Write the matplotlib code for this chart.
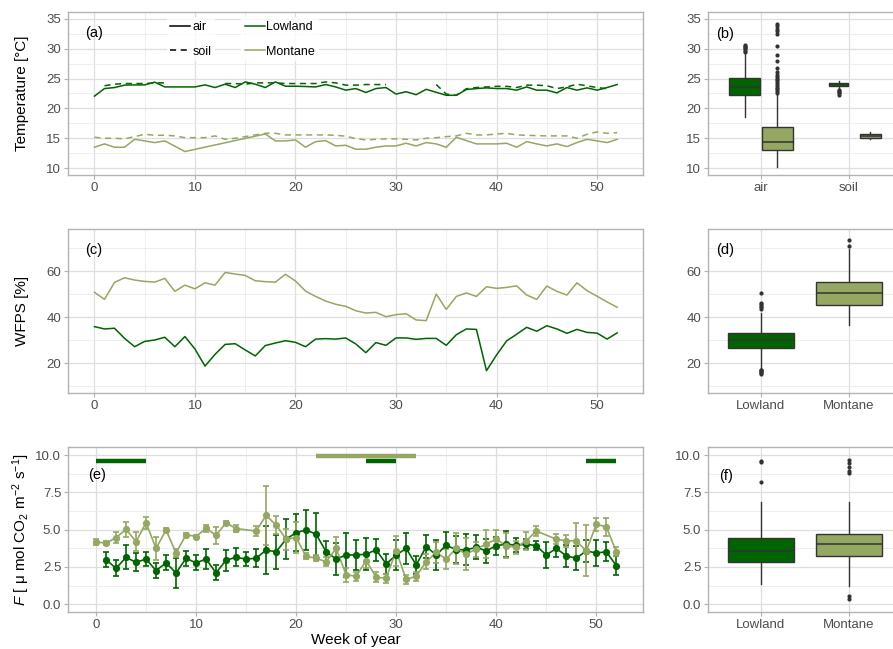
import matplotlib
matplotlib.use('Agg')
import matplotlib.pyplot as plt
import numpy as np
from matplotlib.ticker import FixedLocator
from matplotlib.lines import Line2D

plt.rcParams['font.family'] = ['Liberation Sans', 'DejaVu Sans']
plt.rcParams['mathtext.fontset'] = 'custom'
plt.rcParams['mathtext.rm'] = 'Liberation Sans'
plt.rcParams['mathtext.it'] = 'Liberation Sans:italic'
plt.rcParams['mathtext.bf'] = 'Liberation Sans:bold'

# ---------------- data ----------------
weeks = list(range(53))
site_names = ['Lowland', 'Montane']
medium_names = ['air', 'soil']

# (a) weekly temperature [°C]
temp_air_lowland = [22.06, 23.33, 23.5, 23.9, 23.94, 23.94, 24.4, 23.6, 23.6, 23.6, 23.6, 23.94, 23.5,
                    24.06, 23.5, 24.44, 24.06, 23.5, 24.44, 23.72, 23.72, 23.67, 23.6, 24.0, 23.6, 23.06,
                    23.33, 22.67, 23.33, 23.5, 22.4, 22.8, 22.3, 23.2, 22.7, 22.2, 22.2, 23.17, 23.33,
                    23.44, 23.33, 23.33, 23.06, 23.6, 23.06, 23.06, 22.6, 23.5, 23.06, 23.44, 23.06, 23.5, 24.0]
temp_soil_lowland = [None, 23.8, 24.06, 24.17, 24.17, 24.17, 24.28, 24.28, None, None, None, None, None,
                     24.17, 24.17, 24.06, 24.28, 24.28, 24.28, 24.17, 24.17, 24.17, 24.17, 24.44, 24.28, 23.9,
                     23.9, 24.0, 24.0, 24.0, None, None, None, None, 24.0, 22.4, 22.2, 23.3, 23.5,
                     23.6, 23.7, 23.7, 23.5, 23.9, 23.9, 23.8, 23.33, 23.6, 24.06, 23.78, 23.5, 23.3, None]
temp_air_montane = [13.5, 14.06, 13.5, 13.5, 14.83, 14.56, 14.28, 14.56, None, 12.78, None, None, None,
                    None, None, None, None, 15.72, 14.56, 14.56, 14.72, 13.5, 14.44, 14.61, 13.72, 13.83,
                    13.17, 13.17, 13.5, 13.72, 13.72, 14.17, 13.72, 14.28, 14.06, 13.5, 15.17, 14.61, 14.06,
                    14.06, 14.06, 14.17, 13.5, 14.44, 14.06, 13.72, 14.06, 13.61, 14.28, 14.83, 14.56, 14.28, 14.83]
temp_soil_montane = [15.17, 15.0, 15.0, 14.9, 15.28, 15.67, 15.5, 15.5, 15.4, 15.1, 15.1, 15.1, 15.4,
                     14.83, 15.0, 15.28, 15.56, 15.83, 15.83, 15.56, 15.56, 15.56, 15.56, 15.56, 15.5, 15.35,
                     14.95, 14.72, 14.83, 14.9, 14.9, 14.83, 14.72, 15.0, 15.1, 15.28, 15.4, 15.83, 15.56,
                     15.56, 15.72, 15.83, 15.56, 15.5, 15.44, 15.4, 15.4, 15.4, 15.0, 15.67, 16.06, 15.83, 15.94]

# (c) weekly WFPS [%]
wfps_lowland = [35.9, 34.9, 35.2, 30.8, 27.2, 29.5, 30.1, 31.3, 27.2, 31.6, 26.2, 18.8, 23.9, 28.2, 28.5,
                25.8, 23.2, 27.7, 28.8, 29.8, 29.1, 27.2, 30.5, 30.7, 30.5, 31.0, 28.4, 24.6, 29.0, 27.8,
                31.0, 31.0, 30.4, 30.8, 30.8, 27.8, 32.4, 34.9, 34.7, 16.8, 23.6, 29.7, 32.6, 35.6, 33.9,
                36.3, 34.9, 33.0, 34.7, 33.4, 33.1, 30.5, 33.2]
wfps_montane = [50.8, 47.7, 55.1, 57.1, 56.1, 55.5, 55.2, 56.8, 51.2, 53.9, 52.3, 54.9, 53.9, 59.4, 58.7,
                58.1, 55.8, 55.4, 55.2, 58.6, 55.7, 51.3, 49.0, 47.0, 45.6, 44.7, 42.8, 41.8, 42.1, 40.2,
                41.1, 41.5, 38.8, 38.5, 50.0, 43.4, 49.0, 50.5, 49.0, 53.2, 52.5, 52.9, 53.6, 49.6, 47.7,
                53.5, 51.2, 49.6, 54.9, 51.5, 49.1, 46.6, 44.3]

# (e) weekly CO2 flux, mean and error
flux_lowland = [None, 2.99, 2.41, 3.14, 2.81, 3.03, 2.26, 2.77, 2.1, 3.08, 2.77, 3.03, 2.1, 2.96, 3.14,
                3.03, 3.08, 3.63, 3.52, 4.36, 4.8, 4.98, 4.69, 3.52, 3.03, 3.3, 3.3, 3.36, 3.65, 2.7,
                3.3, 3.74, 2.63, 3.87, 3.3, 3.96, 3.65, 3.65, 3.81, 3.58, 3.92, 4.03, 3.96, 4.03, 3.92,
                3.3, 3.74, 3.25, 3.08, 3.58, 3.43, 3.52, 2.59]
flux_lowland_err = [None, 0.5, 0.55, 0.8, 0.6, 0.5, 0.5, 0.5, 1.0, 0.5, 0.5, 0.7, 0.5, 0.7, 0.6, 0.45,
                    0.6, 1.6, 1.15, 1.35, 1.25, 1.35, 1.45, 0.7, 1.05, 1.45, 1.0, 1.05, 0.75, 0.7, 1.0,
                    1.05, 0.6, 0.75, 1.0, 0.9, 0.9, 1.05, 0.8, 0.8, 0.6, 0.85, 0.45, 0.35, 0.3, 0.9, 0.6,
                    0.75, 0.8, 0.75, 0.85, 0.65, 0.65]
flux_montane = [4.18, 4.09, 4.47, 5.02, 4.2, 5.46, 3.74, 4.98, 3.43, 4.67, 4.54, 5.09, 4.62, 5.46, 5.07,
                None, 4.91, 5.95, 5.31, 4.36, 4.47, 3.21, 3.08, 2.85, 3.74, 1.97, 1.88, 2.92, 1.81, 1.75,
                3.58, 1.66, 1.88, 2.85, 3.47, 3.03, 3.74, 3.36, 3.7, 4.03, 4.36, 3.92, 3.81, 4.25, 4.91,
                None, 4.36, 4.25, 4.25, 3.58, 5.35, 5.2, 3.52]
flux_montane_err = [0.2, 0.15, 0.35, 0.5, 0.65, 0.4, 0.8, 0.1, 0.25, 0.1, 0.1, 0.25, 0.55, 0.1, 0.25,
                    None, 0.35, 2.0, 0.6, 0.7, 1.05, 0.2, 0.2, 0.3, 0.75, 0.45, 0.3, 0.5, 0.33, 0.3, 1.0,
                    0.3, 0.3, 0.5, 0.7, 0.7, 1.05, 1.05, 0.5, 0.95, 0.65, 0.85, 0.45, 0.6, 0.35, None, 0.35,
                    0.4, 1.2, 1.7, 0.45, 0.6, 0.3]

# (e) marked periods
period_site = ['Lowland', 'Montane', 'Lowland', 'Lowland']
period_start = [0, 22, 27, 49]
period_end = [5, 32, 30, 52]
period_level = [9.6, 9.95, 9.6, 9.6]

# (b) boxplot statistics of temperature
box_temp_groups = ['air Lowland', 'air Montane', 'soil Lowland', 'soil Montane']
box_temp_med = [23.56, 14.3, 24.06, 15.4]
box_temp_q1 = [22.17, 13.01, 23.78, 15.13]
box_temp_q3 = [25.07, 16.81, 24.34, 15.69]
box_temp_lo = [18.54, 10.17, 23.45, 14.85]
box_temp_hi = [29.3, 22.4, 24.6, 16.0]
box_temp_fliers = [
    [29.5, 29.7, 29.9, 30.1, 30.3, 30.5, 30.7],
    [34.2, 33.8, 33.3, 33.0, 32.5, 30.5, 29.0, 27.9, 26.7, 26.1, 25.6, 25.3, 25.0, 24.7, 24.4,
     24.1, 23.8, 23.5, 23.2, 22.9, 22.6],
    [23.1, 22.9, 22.7, 22.5, 22.3],
    [],
]

# (d) boxplot statistics of WFPS
box_wfps_med = [30.0, 50.6]
box_wfps_q1 = [26.8, 45.3]
box_wfps_q3 = [33.0, 55.1]
box_wfps_lo = [17.6, 36.6]
box_wfps_hi = [42.0, 69.7]
box_wfps_fliers = [[43.5, 44.2, 44.8, 45.5, 46.1, 50.6, 17.3, 16.9, 16.5, 16.1, 15.7, 15.4],
                   [70.8, 73.3]]

# (f) boxplot statistics of flux
box_flux_med = [3.59, 4.06]
box_flux_q1 = [2.86, 3.26]
box_flux_q3 = [4.46, 4.69]
box_flux_lo = [1.36, 1.23]
box_flux_hi = [6.88, 6.88]
box_flux_fliers = [[9.55, 9.62, 8.17], [9.66, 9.44, 9.22, 8.95, 8.77, 0.56, 0.38]]

# ---------------- style ----------------
C_LOW = '#006400'
C_MON = '#94a862'
site_color = {'Lowland': C_LOW, 'Montane': C_MON}
GRID_MAJ = '#dedede'
GRID_MIN = '#ebebeb'
BORDER = '#b3b3b3'
TXT = '#4d4d4d'

W, H = 893, 649
fig = plt.figure(figsize=(W / 100, H / 100), dpi=100)

def px_axes(l, t, r, b):
    return fig.add_axes([l / W, 1 - b / H, (r - l) / W, (b - t) / H])

LX0, LX1 = 68.3, 643.3
RX0, RX1 = 708.3, 901.4
ROWS = [(11.7, 175.0), (229.3, 393.3), (447.3, 612.3)]

def style(ax, xmaj, xmin, ymaj, ymin):
    ax.set_facecolor('white')
    for s in ax.spines.values():
        s.set_color(BORDER)
        s.set_linewidth(1.0)
    ax.xaxis.set_major_locator(FixedLocator(xmaj))
    ax.yaxis.set_major_locator(FixedLocator(ymaj))
    ax.xaxis.set_minor_locator(FixedLocator(xmin))
    ax.yaxis.set_minor_locator(FixedLocator(ymin))
    ax.tick_params(which='major', colors=BORDER, labelcolor=TXT, labelsize=9.5,
                   length=2.6, width=0.8, pad=2.5)
    ax.tick_params(which='minor', length=0)
    ax.grid(which='major', color=GRID_MAJ, lw=0.9)
    ax.grid(which='minor', color=GRID_MIN, lw=0.6)
    ax.set_axisbelow(True)

def panel_label(ax, x, y, s):
    ax.text(x, y, s, transform=ax.transAxes, fontsize=10.5, color='black', ha='left', va='center')

def arr(v):
    return np.array([np.nan if e is None else e for e in v], dtype=float)

wk = np.array(weeks, dtype=float)
xmaj = [0, 10, 20, 30, 40, 50]
xmin = [5, 15, 25, 35, 45]

# ---- (a)
axa = px_axes(LX0, ROWS[0][0], LX1, ROWS[0][1])
style(axa, xmaj, xmin, [10, 15, 20, 25, 30, 35], [12.5, 17.5, 22.5, 27.5, 32.5])
axa.set_xlim(-2.6, 54.6)
axa.set_ylim(8.85, 36.2)
dash = (0, (4, 3))
y = arr(temp_air_lowland)
axa.plot(wk, y, color=C_LOW, lw=1.1, zorder=3)
y = arr(temp_soil_lowland)
axa.plot(wk, y, color=C_LOW, lw=1.1, ls=dash, zorder=3)
y = arr(temp_air_montane)
m = ~np.isnan(y)
axa.plot(wk[m], y[m], color=C_MON, lw=1.1, zorder=3)
y = arr(temp_soil_montane)
axa.plot(wk, y, color=C_MON, lw=1.1, ls=dash, zorder=3)
panel_label(axa, 0.029, 0.868, '(a)')

h1 = [Line2D([], [], color='black', lw=1.1, ls='-'), Line2D([], [], color='black', lw=1.1, ls=dash)]
leg_kw = dict(loc='upper left', fontsize=9, handlelength=1.6, handletextpad=0.15, labelspacing=1.0,
              borderpad=0.3, borderaxespad=0, frameon=True, fancybox=False)
leg1 = axa.legend(h1, medium_names, bbox_to_anchor=(0.171, 0.965), **leg_kw)
leg1.get_frame().set_facecolor('white')
leg1.get_frame().set_edgecolor('none')
axa.add_artist(leg1)
h2 = [Line2D([], [], color=site_color[s], lw=1.1) for s in site_names]
leg2 = axa.legend(h2, site_names, bbox_to_anchor=(0.300, 0.965), **leg_kw)
leg2.get_frame().set_facecolor('white')
leg2.get_frame().set_edgecolor('none')

def boxes(ax, med, q1, q3, lo, hi, fliers, positions, widths, colors):
    stats = []
    for i in range(len(med)):
        stats.append(dict(med=med[i], q1=q1[i], q3=q3[i], whislo=lo[i], whishi=hi[i],
                          fliers=fliers[i]))
    bp = ax.bxp(stats, positions=positions, widths=widths, patch_artist=True, showcaps=False,
                boxprops=dict(edgecolor='#333333', linewidth=1.0),
                medianprops=dict(color='#333333', linewidth=1.1),
                whiskerprops=dict(color='#333333', linewidth=1.0),
                flierprops=dict(marker='o', markerfacecolor='#333333', markeredgecolor='none',
                                markersize=3.0, linestyle='none'),
                manage_ticks=False)
    for p, c in zip(bp['boxes'], colors):
        p.set_facecolor(c)
        p.set_zorder(3)
    for k in ('medians', 'whiskers', 'fliers'):
        for a in bp[k]:
            a.set_zorder(3.5 if k == 'medians' else 2.8)
    return bp

# ---- (b)
axb = px_axes(RX0, ROWS[0][0], RX1, ROWS[0][1])
style(axb, [1, 2], [], [10, 15, 20, 25, 30, 35], [12.5, 17.5, 22.5, 27.5, 32.5])
axb.set_xlim(0.4, 2.6)
axb.set_ylim(8.85, 36.2)
boxes(axb, box_temp_med, box_temp_q1, box_temp_q3, box_temp_lo, box_temp_hi, box_temp_fliers,
      [0.8125, 1.1875, 1.885, 2.245], [0.36, 0.35, 0.21, 0.237],
      [C_LOW, C_MON, C_LOW, C_MON])
axb.set_xticklabels(medium_names)
panel_label(axb, 0.040, 0.862, '(b)')

# ---- (c)
axc = px_axes(LX0, ROWS[1][0], LX1, ROWS[1][1])
style(axc, xmaj, xmin, [20, 40, 60], [10, 30, 50, 70])
axc.set_xlim(-2.6, 54.6)
axc.set_ylim(7.0, 78.1)
axc.plot(wk, arr(wfps_montane), color=C_MON, lw=1.1, zorder=3)
axc.plot(wk, arr(wfps_lowland), color=C_LOW, lw=1.1, zorder=3)
panel_label(axc, 0.029, 0.874, '(c)')

# ---- (d)
axd = px_axes(RX0, ROWS[1][0], RX1, ROWS[1][1])
style(axd, [1, 2], [], [20, 40, 60], [10, 30, 50, 70])
axd.set_xlim(0.4, 2.6)
axd.set_ylim(7.0, 78.1)
boxes(axd, box_wfps_med, box_wfps_q1, box_wfps_q3, box_wfps_lo, box_wfps_hi, box_wfps_fliers,
      [1, 2], [0.75, 0.75], [C_LOW, C_MON])
axd.set_xticklabels(site_names)
panel_label(axd, 0.040, 0.874, '(d)')

# ---- (e)
axe = px_axes(LX0, ROWS[2][0], LX1, ROWS[2][1])
style(axe, xmaj, xmin, [0, 2.5, 5, 7.5, 10], [1.25, 3.75, 6.25, 8.75])
axe.set_xlim(-2.77, 54.7)
axe.set_ylim(-0.54, 10.52)
axe.yaxis.set_major_formatter(matplotlib.ticker.FormatStrFormatter('%.1f'))
series = [('Lowland', flux_lowland, flux_lowland_err, 0.0), ('Montane', flux_montane, flux_montane_err, 0.1)]
for name, v, e, dz in series:
    yv, ev = arr(v), arr(e)
    m = ~np.isnan(yv)
    axe.errorbar(wk[m], yv[m], yerr=ev[m], fmt='none', ecolor=site_color[name], elinewidth=1.2,
                 capsize=2.3, capthick=1.2, zorder=2 + dz)
for name, v, e, dz in series:
    yv = arr(v)
    m = ~np.isnan(yv)
    axe.plot(wk[m], yv[m], color=site_color[name], lw=1.2, zorder=3 + dz)
for name, v, e, dz in series:
    yv = arr(v)
    m = ~np.isnan(yv)
    axe.plot(wk[m], yv[m], 'o', color=site_color[name], ms=5.2, mec='none', zorder=4 + dz)
for s, a, b, lv in zip(period_site, period_start, period_end, period_level):
    axe.plot([a, b], [lv, lv], color=site_color[s], lw=3.2, solid_capstyle='butt', zorder=5)
panel_label(axe, 0.034, 0.832, '(e)')

# ---- (f)
axf = px_axes(RX0, ROWS[2][0], RX1, ROWS[2][1])
style(axf, [1, 2], [], [0, 2.5, 5, 7.5, 10], [1.25, 3.75, 6.25, 8.75])
axf.set_xlim(0.4, 2.6)
axf.set_ylim(-0.54, 10.52)
axf.yaxis.set_major_formatter(matplotlib.ticker.FormatStrFormatter('%.1f'))
boxes(axf, box_flux_med, box_flux_q1, box_flux_q3, box_flux_lo, box_flux_hi, box_flux_fliers,
      [1, 2], [0.75, 0.75], [C_LOW, C_MON])
axf.set_xticklabels(site_names)
panel_label(axf, 0.057, 0.826, '(f)')

# ---- axis titles
ylx = 21.7 / W
fig.text(ylx, 1 - (ROWS[0][0] + ROWS[0][1]) / 2 / H, 'Temperature [°C]', rotation=90,
         ha='center', va='center', fontsize=11)
fig.text(ylx, 1 - (ROWS[1][0] + ROWS[1][1]) / 2 / H, 'WFPS [%]', rotation=90,
         ha='center', va='center', fontsize=11)
fig.text(ylx, 1 - (ROWS[2][0] + ROWS[2][1]) / 2 / H,
         r'$\it{F}$ [ μ mol CO$_2$ m$^{-2}$ s$^{-1}$]', rotation=90,
         ha='center', va='center', fontsize=11)
fig.text((LX0 + LX1) / 2 / W, 1 - 640 / H, 'Week of year', ha='center', va='center', fontsize=11)

fig.savefig('out.png', dpi=100)
